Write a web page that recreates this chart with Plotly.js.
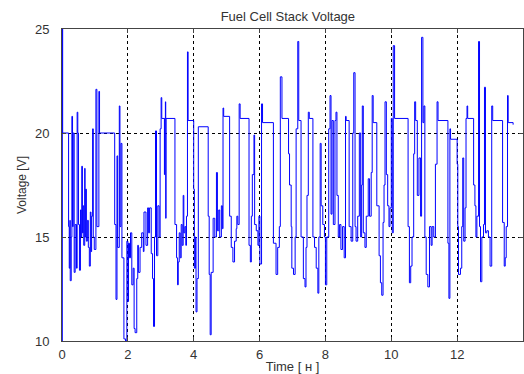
<!DOCTYPE html>
<html>
<head>
<meta charset="utf-8">
<script src="https://cdn.plot.ly/plotly-3.0.1.min.js"></script>
<style>html,body{margin:0;padding:0;background:#fff;}#chart{width:524px;height:374px;}</style>
</head>
<body>
<div id="chart"></div>
<script>
// Time [h]
var timeH = [
0,0.01,0.02,0.20,0.22,0.24,0.25,0.28,0.30,0.32,
0.34,0.37,0.40,0.44,0.46,0.48,0.50,0.53,0.56,0.58,
0.60,0.62,0.64,0.66,0.69,0.70,0.72,0.74,0.77,0.80,
0.83,0.86,0.88,0.90,0.93,0.95,0.98,1.03,1.06,1.12,
1.14,1.60,1.64,1.67,1.69,1.74,1.76,1.79,1.82,1.88,
1.93,1.97,2.00,2.02,2.05,2.08,2.12,2.16,2.19,2.22,
2.27,2.30,2.32,2.37,2.42,2.47,2.49,2.55,2.60,2.63,
2.66,2.71,2.75,2.78,2.81,2.84,2.87,2.91,2.95,2.98,
3.01,3.03,3.11,3.12,3.14,3.15,3.16,3.43,3.48,3.51,
3.53,3.56,3.59,3.62,3.65,3.68,3.70,3.73,3.76,3.78,
3.81,3.83,4.00,4.02,4.05,4.07,4.10,4.14,4.44,4.47,
4.50,4.53,4.59,4.64,4.69,4.72,4.76,4.79,4.84,4.87,
4.89,4.91,5.09,5.14,5.19,5.24,5.29,5.31,5.34,5.38,
5.41,5.68,5.72,5.75,5.78,5.83,5.85,5.90,5.95,5.98,
6.01,6.06,6.09,6.42,6.50,6.55,6.60,6.63,6.68,6.88,
6.91,6.96,6.98,7.03,7.08,7.11,7.16,7.19,7.26,7.33,
7.38,7.41,7.44,7.48,7.51,7.62,7.67,7.72,7.77,7.80,
7.84,7.87,7.92,7.97,8.00,8.04,8.10,8.14,8.17,8.20,
8.24,8.29,8.32,8.35,8.39,8.43,8.47,8.52,8.57,8.61,
8.63,8.72,8.78,8.83,8.86,8.90,8.93,8.98,9.03,9.07,
9.10,9.12,9.15,9.20,9.24,9.30,9.34,9.39,9.42,9.45,
9.56,9.63,9.67,9.71,9.75,9.78,9.81,9.85,9.89,9.93,
9.96,10.00,10.03,10.06,10.10,10.51,10.55,10.59,10.63,10.68,
10.71,10.74,10.79,10.84,10.89,10.92,10.96,10.99,11.02,11.06,
11.11,11.16,11.21,11.24,11.29,11.34,11.39,11.42,11.72,11.75,
11.78,11.80,12.00,12.02,12.04,12.10,12.14,12.17,12.20,12.24,
12.27,12.30,12.32,12.50,12.54,12.57,12.60,12.65,12.68,12.71,
12.75,12.80,12.83,12.86,12.90,12.95,13.00,13.05,13.08,13.38,
13.43,13.46,13.49,13.53,13.55,13.70
];
// Stack voltage [V]
var voltage = [
10.0,25.0,20.0,15.5,13.5,15.8,12.9,15.0,20.8,15.5,
20.0,13.3,15.6,13.5,21.0,20.0,15.6,13.4,16.3,15.0,
18.4,15.2,16.5,14.6,18.3,15.0,17.3,14.8,15.8,14.5,
13.6,16.2,14.3,16.0,20.2,15.0,14.4,22.1,15.5,22.0,
20.0,15.6,12.0,18.9,14.5,21.3,15.5,19.5,14.0,10.1,
10.0,14.8,11.9,14.7,14.0,15.2,12.7,13.5,10.6,10.4,
13.0,14.6,13.3,14.5,15.2,14.3,16.2,14.6,16.4,15.2,
16.4,14.2,13.0,10.7,15.0,20.1,14.1,16.5,15.0,20.2,
21.7,20.7,18.0,20.7,21.5,15.9,20.7,15.6,14.0,12.7,
13.8,15.2,14.0,15.6,14.6,17.0,15.2,15.5,14.6,16.0,
23.9,20.6,17.3,13.5,15.0,11.4,13.0,20.3,16.0,13.2,
10.3,13.3,15.9,15.0,18.1,15.3,16.3,15.0,16.5,15.4,
21.2,20.8,16.0,14.5,13.8,14.8,15.4,16.0,15.6,21.4,
20.7,14.6,13.8,16.0,18.0,19.9,15.6,15.3,14.6,16.0,
13.7,21.4,20.5,14.7,13.2,14.5,15.5,22.7,20.7,19.0,
17.5,15.5,13.5,13.2,15.0,20.2,24.4,20.6,15.0,13.0,
12.6,14.5,17.0,21.0,20.7,15.0,14.5,13.5,12.3,15.0,
19.5,16.5,15.6,15.0,12.7,15.0,20.2,21.8,16.1,20.6,
15.6,20.6,21.0,17.0,15.0,15.6,14.4,15.5,14.0,20.8,
20.6,15.5,14.8,20.0,22.9,15.5,14.8,16.0,20.0,15.0,
17.5,21.3,15.2,14.5,16.0,17.8,16.0,18.1,21.8,20.5,
16.5,14.1,12.8,12.2,15.7,17.5,21.5,18.0,16.5,15.5,
16.4,20.7,15.2,24.2,20.7,15.5,12.8,13.6,15.0,19.0,
21.5,20.6,17.0,18.8,16.0,24.6,20.5,21.3,15.0,13.2,
12.6,15.5,14.6,15.5,15.0,18.5,21.5,20.6,14.7,12.05,
20.2,19.7,18.5,15.5,13.2,13.5,15.5,18.8,14.8,16.4,
20.7,21.3,20.7,17.5,16.5,15.0,16.0,24.4,15.5,12.85,
15.0,15.6,22.2,15.2,15.3,15.0,13.6,21.3,20.6,15.7,
13.6,14.0,15.5,21.8,20.5,20.4
];
var xTicks = [0,2,4,6,8,10,12,14];
var yTicks = [10,15,20,25];

var textColor = '#333333';
var fontFam = 'Liberation Sans, Arial, sans-serif';

var trace = {
  x: timeH, y: voltage, type: 'scatter', mode: 'lines',
  line: {color: '#0000ff', width: 1, shape: 'hv'},
  hoverinfo: 'none'
};

var layout = {
  width: 524, height: 374,
  margin: {l: 62, r: 1, t: 29, b: 33, pad: 0},
  paper_bgcolor: '#ffffff', plot_bgcolor: '#ffffff',
  showlegend: false,
  font: {family: fontFam, size: 13, color: textColor},
  title: {
    text: 'Fuel Cell Stack Voltage',
    font: {family: fontFam, size: 13, color: textColor},
    xref: 'paper', x: 0.49, xanchor: 'center',
    yref: 'container', y: 1 - 16/374, yanchor: 'middle'
  },
  xaxis: {
    range: [0, 14], tickvals: xTicks, ticktext: xTicks.map(String),
    showgrid: true, gridcolor: '#000000', gridwidth: 1, griddash: 'dot',
    showline: true, linecolor: '#444444', linewidth: 1, mirror: 'ticks',
    ticks: 'inside', ticklen: 4, tickcolor: '#444444',
    zeroline: false, ticklabelstandoff: 1,
    tickfont: {family: fontFam, size: 13, color: textColor},
    title: {text: 'Time [ ʜ ]', standoff: 2, font: {family: fontFam, size: 13, color: textColor}}
  },
  yaxis: {
    range: [10, 25], tickvals: yTicks, ticktext: yTicks.map(String),
    showgrid: true, gridcolor: '#000000', gridwidth: 1, griddash: '3px,3px',
    showline: true, linecolor: '#444444', linewidth: 1, mirror: 'ticks',
    ticks: 'inside', ticklen: 4, tickcolor: '#444444',
    zeroline: false, ticklabelstandoff: 9,
    tickfont: {family: fontFam, size: 13, color: textColor},
    title: {text: 'Voltage [V]', standoff: 5, font: {family: fontFam, size: 12, color: textColor}}
  }
};

Plotly.newPlot('chart', [trace], layout, {staticPlot: true, displayModeBar: false});
</script>
</body>
</html>
